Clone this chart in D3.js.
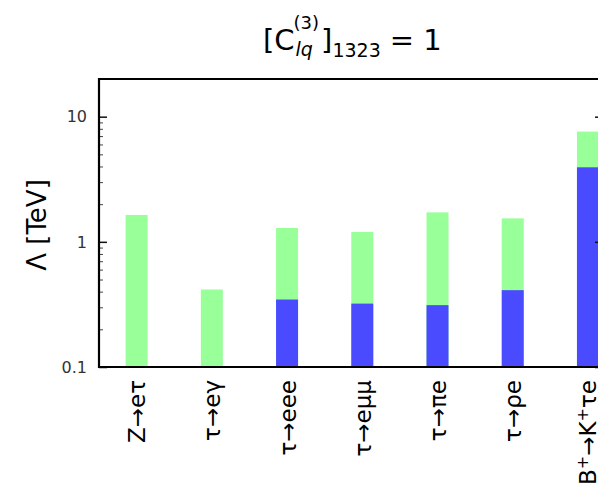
<!DOCTYPE html>
<html>
<head>
<meta charset="utf-8">
<script src="https://cdn.jsdelivr.net/npm/d3@7"></script>
<style>
  body { margin: 0; background: #fff; }
  text { font-family: "DejaVu Sans", sans-serif; }
</style>
</head>
<body>
<div id="chart"></div>
<script>
// processes and the two bounds (TeV); null = no blue bar
const processes = ["Z→eτ", "τ→eγ", "τ→eee", "τ→eμμ", "τ→πe", "τ→ρe", "B+→K+τe"];
const greenVals = [1.64, 0.416, 1.29, 1.20, 1.72, 1.54, 7.6];
const blueVals = [null, null, 0.346, 0.321, 0.312, 0.411, 3.94];
const yTicks = [0.1, 1, 10];
const yTickLabels = ["0.1", "1", "10"];

const width = 598, height = 495;
const svg = d3.select("#chart").append("svg")
    .attr("width", width)
    .attr("height", height);

// plot frame (right edge falls just outside the picture)
let plotLeft = 99, plotRight = 603, plotTop = 79, plotBottom = 367;

let x = d3.scaleLinear().domain([-0.5, 6.2]).range([plotLeft, plotRight]);
let y = d3.scaleLog().domain([0.1, 20]).range([plotBottom, plotTop]);
let barW = 22;

// green bars
svg.append("g").selectAll("rect")
    .data(greenVals)
    .enter()
    .append("rect")
    .attr("x", (d, i) => x(i) - barW / 2)
    .attr("width", barW)
    .attr("y", d => y(d))
    .attr("height", d => plotBottom - y(d))
    .style("fill", "#99ff99");

// blue bars on top
svg.append("g").selectAll("rect")
    .data(blueVals.map((v, i) => ({v: v, i: i})).filter(d => d.v != null))
    .enter()
    .append("rect")
    .attr("x", d => x(d.i) - barW / 2)
    .attr("width", barW)
    .attr("y", d => y(d.v))
    .attr("height", d => plotBottom - y(d.v))
    .style("fill", "#4a4aff");

// minor / major ticks, inward on both sides
let minor = [];
for (let dec of [0.1, 1, 10]) {
    for (let k = 2; k <= 9; k++) {
        let v = dec * k;
        if (v <= 20) minor.push(v);
    }
}
minor.push(20);

svg.append("g")
    .attr("transform", "translate(" + plotLeft + ",0)")
    .call(d3.axisRight(y).tickValues(minor).tickSize(4).tickFormat(""))
    .call(g => g.select(".domain").remove())
    .selectAll("line").attr("stroke", "#444");

svg.append("g")
    .attr("transform", "translate(" + plotLeft + ",0)")
    .call(d3.axisRight(y).tickValues(yTicks).tickSize(8).tickFormat(""))
    .call(g => g.select(".domain").remove())
    .selectAll("line").attr("stroke", "#111").attr("stroke-width", 1.5);

svg.append("g")
    .attr("transform", "translate(" + plotRight + ",0)")
    .call(d3.axisLeft(y).tickValues(minor).tickSize(4).tickFormat(""))
    .call(g => g.select(".domain").remove())
    .selectAll("line").attr("stroke", "#444");

svg.append("g")
    .attr("transform", "translate(" + plotRight + ",0)")
    .call(d3.axisLeft(y).tickValues(yTicks).tickSize(8).tickFormat(""))
    .call(g => g.select(".domain").remove())
    .selectAll("line").attr("stroke", "#111").attr("stroke-width", 1.5);

// y tick labels
svg.append("g").selectAll("text")
    .data(yTicks)
    .enter()
    .append("text")
    .attr("x", plotLeft - 12)
    .attr("y", d => y(d))
    .attr("dy", "0.36em")
    .attr("text-anchor", "end")
    .style("font-size", "16px")
    .style("fill", "#333")
    .text((d, i) => yTickLabels[i]);

// frame
svg.append("path")
    .attr("d", "M" + plotRight + "," + plotTop + "H" + plotLeft + "V" + plotBottom + "H" + plotRight)
    .attr("fill", "none")
    .attr("stroke", "#000")
    .attr("stroke-width", 2.2);

// x labels, rotated
let xl = svg.append("g").selectAll("text")
    .data(processes)
    .enter()
    .append("text")
    .attr("transform", (d, i) => "translate(" + (x(i) + 8.5) + "," + (plotBottom + 13) + ") rotate(-90)")
    .attr("text-anchor", "end")
    .style("font-size", "23px")
    .style("fill", "#000");

xl.each(function(d) {
    let t = d3.select(this);
    if (d.indexOf("+") < 0) { t.text(d); return; }
    // B+ → K+ τ e with superscript plus signs
    t.append("tspan").text("B");
    t.append("tspan").text("+").attr("dy", "-0.55em").style("font-size", "16px");
    t.append("tspan").text("→K").attr("dy", "0.38em");
    t.append("tspan").text("+").attr("dy", "-0.55em").style("font-size", "16px");
    t.append("tspan").text("τe").attr("dy", "0.38em");
});

// y axis title
svg.append("text")
    .attr("transform", "translate(46," + ((plotTop + plotBottom) / 2 + 2) + ") rotate(-90)")
    .attr("text-anchor", "middle")
    .style("font-size", "26px")
    .text("Λ [TeV]");

// chart title  [C^(3)_lq]_1323 = 1, laid out piece by piece
let title = svg.append("g");
function piece(txt, px, py, size, italic) {
    let t = title.append("text")
        .attr("x", px).attr("y", py)
        .style("font-size", size + "px")
        .style("font-style", italic ? "italic" : "normal")
        .text(txt);
    return px + t.node().getComputedTextLength();
}
let cx = piece("[C", 263, 50, 29);
let supEnd = piece("(3)", cx - 1, 29, 18);
let subEnd = piece("lq", cx + 1, 56, 19, true);
cx = Math.max(supEnd, subEnd) + 2;
cx = piece("]", cx, 50, 29);
cx = piece("1323", cx, 57, 19);
piece("= 1", cx + 9, 50, 29);
</script>
</body>
</html>
